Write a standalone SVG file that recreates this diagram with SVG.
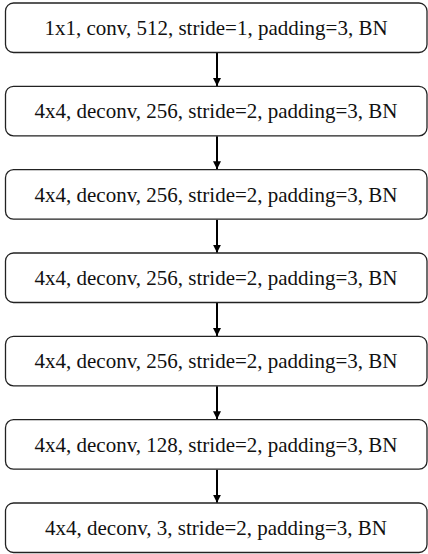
<svg xmlns="http://www.w3.org/2000/svg" width="428" height="554" viewBox="0 0 428 554">
<defs>
<style>
.box{fill:#fff;stroke:#222;stroke-width:1.3}
.t{font-family:'Liberation Serif','Times New Roman',Times,serif;font-size:21px;fill:#111;text-anchor:middle}
.c{stroke:#000;stroke-width:2;fill:none}
</style>
<marker id="ah" viewBox="0 0 10 10" refX="10" refY="5" markerWidth="4" markerHeight="4.5" orient="auto" markerUnits="strokeWidth">
<path d="M0,0 L10,5 L0,10 Z" fill="#000"/>
</marker>
</defs>
<rect width="428" height="554" fill="#fff"/>
<g id="connectors">
<line class="c" x1="217" y1="53" x2="217" y2="86" marker-end="url(#ah)"/>
<line class="c" x1="217" y1="136.3" x2="217" y2="169.3" marker-end="url(#ah)"/>
<line class="c" x1="217" y1="219.7" x2="217" y2="252.7" marker-end="url(#ah)"/>
<line class="c" x1="217" y1="303" x2="217" y2="336" marker-end="url(#ah)"/>
<line class="c" x1="217" y1="386.3" x2="217" y2="419.3" marker-end="url(#ah)"/>
<line class="c" x1="217" y1="469.7" x2="217" y2="502.7" marker-end="url(#ah)"/>
</g>
<g id="n1"><rect class="box" x="5.5" y="3" width="421.5" height="49.5" rx="8"/><text class="t" font-family="Liberation Serif, serif" x="216" y="35">1x1, conv, 512, stride=1, padding=3, BN</text></g>
<g id="n2"><rect class="box" x="5.5" y="86.3" width="421.5" height="49.5" rx="8"/><text class="t" font-family="Liberation Serif, serif" x="216" y="118.3">4x4, deconv, 256, stride=2, padding=3, BN</text></g>
<g id="n3"><rect class="box" x="5.5" y="169.7" width="421.5" height="49.5" rx="8"/><text class="t" font-family="Liberation Serif, serif" x="216" y="201.7">4x4, deconv, 256, stride=2, padding=3, BN</text></g>
<g id="n4"><rect class="box" x="5.5" y="253" width="421.5" height="49.5" rx="8"/><text class="t" font-family="Liberation Serif, serif" x="216" y="285">4x4, deconv, 256, stride=2, padding=3, BN</text></g>
<g id="n5"><rect class="box" x="5.5" y="336.3" width="421.5" height="49.5" rx="8"/><text class="t" font-family="Liberation Serif, serif" x="216" y="368.3">4x4, deconv, 256, stride=2, padding=3, BN</text></g>
<g id="n6"><rect class="box" x="5.5" y="419.7" width="421.5" height="49.5" rx="8"/><text class="t" font-family="Liberation Serif, serif" x="216" y="451.7">4x4, deconv, 128, stride=2, padding=3, BN</text></g>
<g id="n7"><rect class="box" x="5.5" y="503" width="421.5" height="49.5" rx="8"/><text class="t" font-family="Liberation Serif, serif" x="216" y="535">4x4, deconv, 3, stride=2, padding=3, BN</text></g>
</svg>
